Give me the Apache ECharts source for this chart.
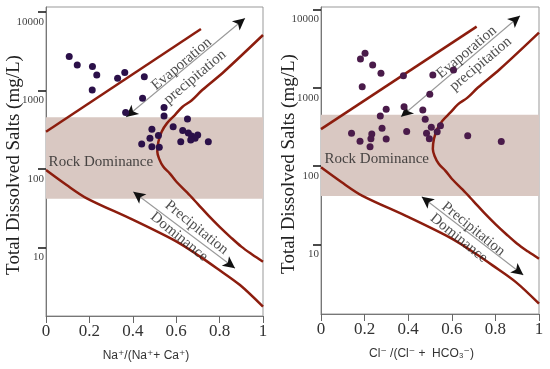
<!DOCTYPE html>
<html><head><meta charset="utf-8">
<script src="https://cdn.jsdelivr.net/npm/echarts@6/dist/echarts.min.js"></script>
<style>html,body{margin:0;padding:0;background:#fff}#c{width:550px;height:369px}</style>
</head><body><div id="c"></div>
<script>
// ---- data ----
const naRatio = [0.107,0.144,0.214,0.234,0.213,0.330,0.363,0.453,0.445,0.367,0.544,0.544,0.652,0.488,0.586,0.630,0.656,0.671,0.699,0.687,0.667,0.621,0.748,0.479,0.518,0.441,0.488,0.522];
const tdsCation = [2704,2104,2014,1570,1012,1426,1690,1493,793,523,605,471,431,319,343,308,286,262,270,245,233,222,222,245,266,208,191,188];
const clRatio = [0.202,0.181,0.237,0.275,0.378,0.513,0.608,0.189,0.499,0.381,0.299,0.467,0.272,0.478,0.280,0.393,0.506,0.548,0.533,0.484,0.140,0.233,0.229,0.179,0.299,0.497,0.673,0.827,0.225];
const tdsAnion = [2766,2339,1959,1534,1427,1459,1691,1035,830,574,532,522,437,398,305,277,313,328,275,263,263,257,224,208,222,223,244,207,177];
const yTickValues = [10,100,1000,10000];
const xTickInterval = 0.2;
const rockBand = [41.5, 455];
const boundaryUpperLeft = [[0,297],[0.714,6050]];
const boundaryRight = [[1.0,5080],[0.82,1730],[0.72,1010],[0.672,750],[0.628,615],[0.594,485],[0.557,380],[0.533,297],[0.518,222],[0.513,165],[0.521,135],[0.54,107],[0.571,87],[0.60,69],[0.65,50],[0.70,35.5],[0.75,25.1],[0.80,18.2],[0.85,13.5],[0.90,10.2],[0.95,8.1],[1.0,6.55]];
const boundaryLower = [[0,96.6],[0.095,62.2],[0.188,42.1],[0.402,22.3],[0.602,11.8],[0.71,7.6],[0.787,5.4],[0.894,3.3],[1.0,1.75]];
const xTitles = ['Na\u207A/(Na\u207A+ Ca\u207A)', 'Cl\u207B /(Cl\u207B +  HCO\u2083\u207B)'];
const yTitle = 'Total Dissolved Salts (mg/L)';

// annotations (data coordinates: [ratio, TDS])
const annotations = [
  [ {t:'Evaporation', p:[0.625,2168], r:40}, {t:'precipitation', p:[0.687,1479], r:40},
    {t:'Precipitation', p:[0.694,17.8], r:-39}, {t:'Dominance', p:[0.613,13.6], r:-39},
    {t:'Rock Dominance', p:[0.253,123], r:0} ],
  [ {t:'Evaporation', p:[0.668,2851], r:40}, {t:'precipitation', p:[0.733,2018], r:40},
    {t:'Precipitation', p:[0.699,15.7], r:-39}, {t:'Dominance', p:[0.632,12.0], r:-39},
    {t:'Rock Dominance', p:[0.2555,122], r:0} ]
];
const arrows = [
  [ [[0.369,458],[0.917,8300]], [[0.402,51],[0.871,5.4]] ],
  [ [[0.367,428],[0.913,8350]], [[0.462,40.6],[0.928,4.07]] ]
];

const lg = Math.log10;
const toPts = arr => arr.map(d => [d[0], lg(d[1])]);
const serif = "'Liberation Serif','Times New Roman',serif";
const sans = "'Liberation Sans','DejaVu Sans',Arial,sans-serif";
const curveColor = '#8c1d0e';
const yRanges = [[0.124, 4.063], [0.111, 4.033]];
const grids = [
  {left:46, top:7, width:217, height:309},
  {left:321, top:7, width:218, height:307}
];
const pointColors = ['#2b1049', '#4a1b4a'];

const chart = echarts.init(document.getElementById('c'), null, {renderer:'canvas'});
const series = [];
const xAxes = [], yAxes = [];
[0,1].forEach(i => {
  xAxes.push({
    gridIndex:i, type:'value', min:0, max:1, interval:xTickInterval,
    axisLine:{show:true, lineStyle:{color:'#777', width:1}},
    axisTick:{show:true, length:7, lineStyle:{color:'#666'}},
    splitLine:{show:false},
    axisLabel:{fontFamily:serif, fontSize:17, color:'#333', margin:7},
    name:xTitles[i], nameLocation:'middle', nameGap:34, nameMoveOverlap:false,
    nameTextStyle:{fontFamily:sans, fontSize:12, color:'#333', padding:[0,17,0,0]}
  });
  yAxes.push({
    gridIndex:i, type:'value', min:yRanges[i][0], max:yRanges[i][1],
    axisLine:{show:true, lineStyle:{color:'#777', width:1}},
    axisTick:{show:true, length:8, customValues:yTickValues.map(lg), lineStyle:{color:'#111', width:1.5}},
    splitLine:{show:false},
    axisLabel:{customValues:yTickValues.map(lg), fontFamily:serif, fontSize:11, color:'#444', margin:2,
      lineHeight:20, formatter: v => '\n' + String(Math.round(Math.pow(10, v)))},
    name:yTitle, nameLocation:'middle', nameGap:22, nameMoveOverlap:false,
    nameTextStyle:{fontFamily:serif, fontSize:19, color:'#222', padding:[0,7,0,0]}
  });
  // band
  series.push({
    type:'line', xAxisIndex:i, yAxisIndex:i, data:[], z:0, silent:true,
    markArea:{silent:true, itemStyle:{color:'#d9c8c2'},
      data:[[{yAxis:lg(rockBand[1])},{yAxis:lg(rockBand[0])}]]}
  });
  // boundary curves
  [[boundaryUpperLeft,false],[boundaryRight,0.35],[boundaryLower,0.3]].forEach(([c,s]) => {
    series.push({type:'line', xAxisIndex:i, yAxisIndex:i, data:toPts(c), smooth:s,
      showSymbol:false, silent:true, z:3, lineStyle:{color:curveColor, width:2.5}});
  });
  // points
  const xs = i === 0 ? naRatio : clRatio;
  const ys = i === 0 ? tdsCation : tdsAnion;
  series.push({type:'scatter', xAxisIndex:i, yAxisIndex:i, z:5,
    data: xs.map((x,k) => [x, lg(ys[k])]), symbolSize:7,
    itemStyle:{color:pointColors[i], opacity:1}});
  // annotations + arrows
  const mlData = [];
  arrows[i].forEach(([a,b]) => {
    const A = [a[0], lg(a[1])], B = [b[0], lg(b[1])];
    mlData.push([{coord:A, symbol:'none', lineStyle:{color:'#999', width:1.1, type:'solid'}}, {coord:B, symbol:'none'}]);
    mlData.push([{coord:A, lineStyle:{color:'#111', width:0, type:'solid'}}, {coord:B}]);
  });
  series.push({type:'scatter', xAxisIndex:i, yAxisIndex:i, z:6, symbolSize:1, silent:true,
    itemStyle:{color:'rgba(0,0,0,0)'},
    data: annotations[i].map(a => ({value:[a.p[0], lg(a.p[1])], name:a.t,
      label:{show:true, position:'inside', rotate:a.r, formatter:a.t,
        fontFamily: serif, fontSize: 15, color:'#222'}})),
    markLine:{silent:true, symbol:['arrow','arrow'], symbolSize:[9,12], label:{show:false},
      animation:false, data:mlData}
  });
});

chart.setOption({
  animation:false,
  grid: grids.map(g => Object.assign({show:true, borderColor:'#999', borderWidth:1, backgroundColor:'transparent',
    containLabel:false, outerBoundsMode:'none'}, g)),
  xAxis: xAxes, yAxis: yAxes, series: series
});
</script></body></html>
